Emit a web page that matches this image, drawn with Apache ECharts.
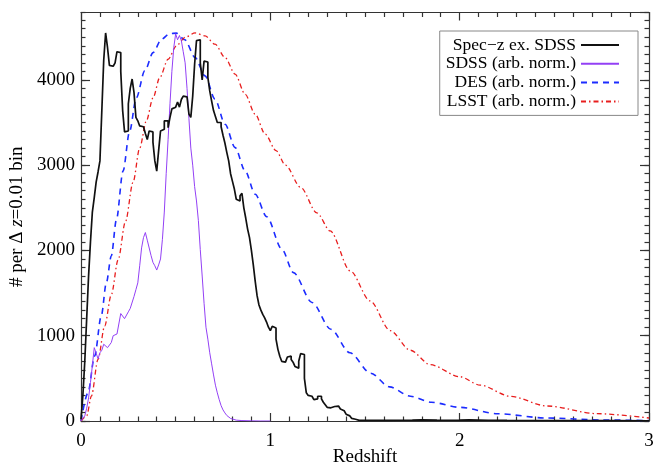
<!DOCTYPE html>
<html>
<head>
<meta charset="utf-8">
<script src="https://cdn.jsdelivr.net/npm/echarts@6/dist/echarts.min.js"></script>
<style>html,body{margin:0;padding:0;background:#fff}#c{width:657px;height:466px}</style>
</head>
<body>
<div id="c"></div>
<script>
// ---- Data ----
// Spec-z ex. SDSS histogram, bins of 0.01 starting at z = 0.00
const specBinWidth = 0.01;
const specCounts = [
  20, 300, 700, 1200, 1700, 2100, 2450, 2620, 2800, 2920,
  3050, 3640, 4230, 4550, 4380, 4170, 4160, 4150, 4200, 4330,
  4320, 4100, 3640, 3390, 3400, 3720, 3900, 4010, 3850, 3560,
  3520, 3460, 3450, 3430, 3370, 3300, 3400, 3390, 3270, 3050,
  2930, 3170, 3400, 3420, 3520, 3520, 3440, 3560, 3660, 3680,
  3700, 3740, 3680, 3770, 3810, 3800, 3790, 3600, 3560, 3810,
  4180, 4460, 4470, 4200, 4000, 4220, 4210, 4030, 3870, 3750,
  3640, 3570, 3500, 3500, 3450, 3350, 3260, 3150, 3050, 2900,
  2810, 2720, 2600, 2580, 2640, 2670, 2500, 2380, 2250, 2150,
  2000, 1830, 1640, 1470, 1360, 1300, 1250, 1210, 1160, 1100,
  1060, 1110, 1090, 960, 840, 760, 700, 690, 700, 750,
  760, 720, 690, 640, 620, 700, 790, 780, 500, 330,
  300, 290, 270, 250, 260, 290, 290, 260, 220, 190,
  160, 155, 160, 170, 178, 175, 160, 140, 120, 100,
  80, 60, 45, 30, 20, 12, 8
];
// Spec-z tail (bin edges and counts)
const specTailZ = [1.47, 1.55, 1.62, 1.70, 1.75, 1.80, 1.88, 1.95, 2.00, 2.05, 2.15, 2.25, 2.40, 2.60, 2.80, 3.00];
const specTailN = [8, 7, 9, 10, 14, 11, 9, 10, 13, 9, 7, 6, 5, 4, 3, 3];

// SDSS (arb. norm.)
const sdssZ = [
  0.00,0.01,0.02,0.03,0.04,0.05,0.06,0.07,0.08,0.09,
  0.10,0.11,0.12,0.13,0.14,0.15,0.16,0.17,0.18,0.19,
  0.20,0.21,0.22,0.23,0.24,0.25,0.26,0.27,0.28,0.29,
  0.30,0.31,0.32,0.33,0.34,0.35,0.36,0.37,0.38,0.39,
  0.40,0.41,0.42,0.43,0.44,0.45,0.46,0.47,0.48,0.49,
  0.50,0.51,0.52,0.53,0.54,0.55,0.56,0.57,0.58,0.59,
  0.60,0.61,0.62,0.63,0.64,0.65,0.66,0.67,0.68,0.69,
  0.70,0.71,0.72,0.73,0.74,0.75,0.76,0.77,0.78,0.79,
  0.80,0.82,0.85,0.90,0.95,1.00
];
const sdssN = [
  0, 20, 60, 150, 270, 450, 650, 860, 870, 730,
  800, 830, 900, 880, 860, 840, 920, 1000, 1010, 1020,
  1040, 1260, 1270, 1200, 1190, 1280, 1320, 1340, 1460, 1540,
  1620, 1820, 2030, 2150, 2210, 2120, 2110, 1940, 1860, 1820,
  1770, 1830, 1900, 2130, 2450, 2900, 3300, 3720, 4100, 4380,
  4540, 4470, 4520, 4460, 4330, 4200, 3900, 3550, 3200, 3000,
  2750, 2580, 2350, 2010, 1700, 1380, 1100, 960, 800, 670,
  540, 420, 330, 250, 180, 130, 95, 65, 45, 30,
  20, 10, 5, 2, 0, 0
];

// DES (arb. norm.)
const desZ = [0, 0.037, 0.072, 0.107, 0.134, 0.160, 0.187, 0.222, 0.257, 0.292, 0.337, 0.381, 0.425, 0.469, 0.504, 0.548, 0.603, 0.655, 0.708, 0.761, 0.814, 0.867, 0.920, 0.981, 1.061, 1.122, 1.22, 1.32, 1.42, 1.53, 1.63, 1.74, 1.85, 2.0, 2.2, 2.46, 2.75, 3.0];
const desN = [0, 332, 762, 1232, 1622, 1935, 2360, 2930, 3400, 3790, 4106, 4320, 4477, 4543, 4548, 4470, 4262, 4047, 3773, 3480, 3206, 2932, 2659, 2395, 2014, 1740, 1390, 1075, 800, 560, 400, 290, 220, 160, 85, 35, 12, 5];

// LSST (arb. norm.)
const lsstZ = [0, 0.03, 0.055, 0.09, 0.125, 0.16, 0.196, 0.235, 0.275, 0.31, 0.345, 0.381, 0.416, 0.46, 0.504, 0.55, 0.603, 0.655, 0.708, 0.761, 0.814, 0.867, 0.92, 0.973, 1.03, 1.08, 1.16, 1.246, 1.316, 1.422, 1.527, 1.633, 1.739, 1.845, 2.0, 2.109, 2.267, 2.461, 2.726, 3.0];
const lsstN = [0, 60, 293, 723, 1114, 1480, 1890, 2340, 2800, 3200, 3519, 3793, 4027, 4242, 4399, 4500, 4550, 4516, 4418, 4262, 4067, 3832, 3598, 3363, 3170, 3000, 2740, 2440, 2229, 1760, 1408, 1060, 830, 660, 520, 420, 290, 176, 86, 35];

const seriesNames = ['Spec\u2212z ex. SDSS', 'SDSS (arb. norm.)', 'DES (arb. norm.)', 'LSST (arb. norm.)'];
const xTicks = { min: 0, max: 3, step: 1 };
const yTicks = { min: 0, max: 4790, step: 1000, minorStep: 100 };

// ---- Build ----
const specData = specCounts.map((v, i) => [+(i * specBinWidth).toFixed(2), v]);
specTailZ.forEach((z, i) => specData.push([z, specTailN[i]]));
const zip = (a, b) => a.map((z, i) => [z, b[i]]);

const FONT = 'Liberation Serif';
const axisCol = '#333';
const lineStyle = { color: axisCol, width: 1.2 };

function xAx(pos, labels) {
  return {
    type: 'value', position: pos, min: xTicks.min, max: xTicks.max, interval: xTicks.step,
    axisLine: { show: true, onZero: false, lineStyle },
    axisTick: { show: true, inside: true, length: 8, lineStyle },
    minorTick: { show: true, splitNumber: 10, length: 4.5, lineStyle },
    splitLine: { show: false }, minorSplitLine: { show: false },
    axisLabel: labels ? { show: true, margin: 11, color: '#000', fontFamily: FONT, fontSize: 19 } : { show: false }
  };
}
function yAx(pos, minor, labels) {
  return {
    type: 'value', position: pos, min: yTicks.min, max: yTicks.max,
    interval: minor ? yTicks.minorStep : yTicks.step,
    axisLine: { show: !minor, onZero: false, lineStyle },
    axisTick: { show: true, inside: true, length: minor ? 4.5 : 9, lineStyle },
    splitLine: { show: false },
    axisLabel: labels ? { show: true, showMaxLabel: false, margin: 6, color: '#000', fontFamily: FONT, fontSize: 19,
      formatter: (v) => String(v) } : { show: false }
  };
}

const xb = xAx('bottom', true);
xb.name = 'Redshift';
xb.nameLocation = 'middle';
xb.nameGap = 27;
xb.nameMoveOverlap = false;
xb.nameTextStyle = { color: '#000', fontFamily: FONT, fontSize: 19, verticalAlign: 'top' };

const yl = yAx('left', false, true);
yl.name = '# per \u0394 {it|z}=0.01 bin';
yl.nameLocation = 'middle';
yl.nameRotate = 90;
yl.nameGap = 54;
yl.nameTextStyle = { color: '#000', fontFamily: FONT, fontSize: 19, rich: { it: { fontFamily: FONT, fontSize: 19, fontStyle: 'italic', color: '#000' } } };

const chart = echarts.init(document.getElementById('c'), null, { renderer: 'canvas' });
chart.setOption({
  animation: false,
  backgroundColor: '#fff',
  grid: { left: 81, right: 8, top: 12.5, bottom: 45, containLabel: false, outerBoundsMode: 'none' },
  xAxis: [xb, xAx('top', false)],
  yAxis: [yl, yAx('right', false, false), yAx('left', true, false), yAx('right', true, false)],
  legend: {
    right: 19, top: 31, orient: 'vertical', align: 'right',
    itemWidth: 38, itemHeight: 12, itemGap: 0.8,
    padding: [5, 18, 5, 6],
    borderColor: '#888', borderWidth: 1, backgroundColor: '#fff',
    itemStyle: { color: 'rgba(0,0,0,0)', borderColor: 'rgba(0,0,0,0)', borderWidth: 0, opacity: 0 },
    textStyle: { color: '#000', fontFamily: FONT, fontSize: 17.5, lineHeight: 16 },
    data: seriesNames
  },
  series: [
    { name: seriesNames[0], type: 'line', step: 'end', data: specData, symbol: 'none', z: 4,
      lineStyle: { color: '#111', width: 1.7 }, itemStyle: { color: '#111' } },
    { name: seriesNames[1], type: 'line', data: zip(sdssZ, sdssN), symbol: 'none', z: 3,
      lineStyle: { color: '#9340f5', width: 1 }, itemStyle: { color: '#9340f5' } },
    { name: seriesNames[2], type: 'line', data: zip(desZ, desN), symbol: 'none', smooth: 0.3, smoothMonotone: 'x', z: 2,
      lineStyle: { color: '#1c2cff', width: 1.6, type: [6, 5] }, itemStyle: { color: '#1c2cff' } },
    { name: seriesNames[3], type: 'line', data: zip(lsstZ, lsstN), symbol: 'none', smooth: 0.3, smoothMonotone: 'x', z: 2,
      lineStyle: { color: '#e81e1e', width: 1.3, type: [5, 3, 1.5, 3] }, itemStyle: { color: '#e81e1e' } }
  ]
});
</script>
</body>
</html>
